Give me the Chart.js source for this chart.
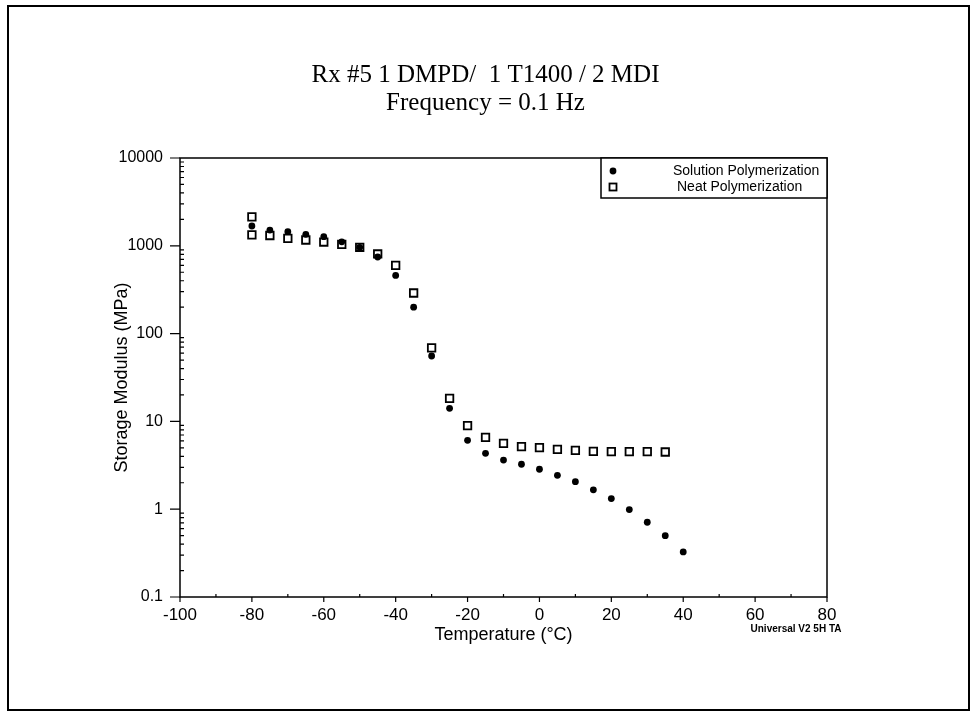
<!DOCTYPE html>
<html>
<head>
<meta charset="utf-8">
<script src="https://cdn.jsdelivr.net/npm/chart.js@4"></script>
<style>
  body { margin: 0; background: #fff; }
  canvas { display: block; }
</style>
</head>
<body>
<canvas id="chart" width="971" height="713"></canvas>
<script>
const titleLines = ['Rx #5 1 DMPD/  1 T1400 / 2 MDI', 'Frequency = 0.1 Hz']
const xTitle = 'Temperature (°C)'
const yTitle = 'Storage Modulus (MPa)'
const footNote = 'Universal V2 5H TA'

const xTicks = [-100, -80, -60, -40, -20, 0, 20, 40, 60, 80]
const yTicks = [0.1, 1, 10, 100, 1000, 10000]

// solution polymerization (filled dots)
const solutionTemps = [-80, -75, -70, -65, -60, -55, -50, -45, -40, -35, -30, -25, -20,
  -15, -10, -5, 0, 5, 10, 15, 20, 25, 30, 35, 40]
const solutionModulus = [1680, 1510, 1450, 1350, 1270, 1110, 960, 745, 460, 200, 55.6, 14.1, 6.08,
  4.33, 3.63, 3.25, 2.85, 2.43, 2.06, 1.66, 1.32, 0.99, 0.71, 0.50, 0.326]

// neat polymerization (open squares)
const neatTemps = [-80, -80, -75, -70, -65, -60, -55, -50, -45, -40, -35, -30, -25, -20,
  -15, -10, -5, 0, 5, 10, 15, 20, 25, 30, 35]
const neatModulus = [2130, 1330, 1310, 1216, 1164, 1104, 1040, 962, 807, 600, 290, 68.6, 18.3, 8.93,
  6.58, 5.62, 5.16, 5.03, 4.81, 4.68, 4.56, 4.52, 4.52, 4.52, 4.48]

const toPoints = (xs, ys) => xs.map((x, i) => ({ x: x, y: ys[i] }))

const sans = 'Liberation Sans, Arial, sans-serif'

// ticks, frame, legend box and footnote
const decorations = {
  id: 'decorations',
  afterDraw(chart) {
    const { ctx, chartArea: a, scales } = chart
    const xs = scales.x, ys = scales.y
    ctx.save()
    ctx.strokeStyle = '#000'
    ctx.fillStyle = '#000'

    // plot box
    ctx.lineWidth = 1.5
    ctx.strokeRect(a.left, a.top, a.right - a.left, a.bottom - a.top)

    // y ticks: majors out, minors in
    ctx.lineWidth = 1.2
    ctx.beginPath()
    for (let e = -1; e <= 4; e++) {
      const y = ys.getPixelForValue(Math.pow(10, e))
      ctx.moveTo(a.left - 10, y); ctx.lineTo(a.left, y)
      if (e < 4) {
        for (let m = 2; m <= 9; m++) {
          const ym = ys.getPixelForValue(m * Math.pow(10, e))
          ctx.moveTo(a.left, ym); ctx.lineTo(a.left + 4, ym)
        }
      }
    }
    // x ticks
    for (let t = -100; t <= 80; t += 10) {
      const x = xs.getPixelForValue(t)
      if (t % 20 === 0) { ctx.moveTo(x, a.bottom); ctx.lineTo(x, a.bottom + 5) }
      else { ctx.moveTo(x, a.bottom); ctx.lineTo(x, a.bottom - 3) }
    }
    ctx.stroke()

    // legend box
    const lx = a.right - 226, ly = a.top, lw = 226, lh = 40
    ctx.fillStyle = '#fff'
    ctx.fillRect(lx, ly, lw, lh)
    ctx.lineWidth = 1.5
    ctx.strokeRect(lx, ly, lw, lh)
    ctx.fillStyle = '#000'
    ctx.beginPath()
    ctx.arc(lx + 12, ly + 13, 3.4, 0, Math.PI * 2)
    ctx.fill()
    ctx.lineWidth = 1.8
    ctx.strokeRect(lx + 8.5, ly + 25.5, 7, 7)
    ctx.font = '14px ' + sans
    ctx.textBaseline = 'middle'
    ctx.textAlign = 'left'
    ctx.fillText(chart.data.datasets[0].label, lx + 72, ly + 13)
    ctx.fillText(chart.data.datasets[1].label, lx + 76, ly + 29)

    // footnote
    ctx.font = 'bold 10px ' + sans
    ctx.textAlign = 'center'
    ctx.fillText(footNote, 796, 629)

    // outer frame
    ctx.lineWidth = 2
    ctx.strokeRect(8, 6, 961, 704)
    ctx.restore()
  }
}

new Chart(document.getElementById('chart'), {
  type: 'scatter',
  data: {
    datasets: [
      {
        label: 'Solution Polymerization',
        data: toPoints(solutionTemps, solutionModulus),
        pointStyle: 'circle',
        pointRadius: 3.4,
        backgroundColor: '#000',
        borderColor: '#000',
        borderWidth: 0,
        order: 1
      },
      {
        label: 'Neat Polymerization',
        data: toPoints(neatTemps, neatModulus),
        pointStyle: 'rect',
        pointRadius: 5.3,
        backgroundColor: 'rgba(0,0,0,0)',
        borderColor: '#000',
        borderWidth: 1.8,
        order: 0
      }
    ]
  },
  options: {
    responsive: false,
    animation: false,
    devicePixelRatio: 1,
    layout: { padding: 0 },
    plugins: {
      legend: { display: false },
      tooltip: { enabled: false },
      title: {
        display: true,
        text: titleLines,
        color: '#000',
        font: { family: 'Liberation Serif, Times New Roman, serif', size: 25, weight: 'normal', lineHeight: 1.12 },
        padding: { top: 61, bottom: 41 }
      }
    },
    scales: {
      x: {
        type: 'linear',
        min: -100,
        max: 80,
        afterBuildTicks: s => { s.ticks = xTicks.map(v => ({ value: v })) },
        afterFit: s => { s.height = 116 },
        grid: { display: false },
        border: { display: false },
        ticks: {
          color: '#000',
          font: { family: sans, size: 17 },
          padding: 0,
          maxRotation: 0,
          autoSkip: false,
          callback: v => String(v)
        },
        title: {
          display: true,
          text: xTitle,
          color: '#000',
          font: { family: sans, size: 18 },
          padding: { top: 0, bottom: 67 }
        }
      },
      y: {
        type: 'logarithmic',
        min: 0.1,
        max: 10000,
        afterBuildTicks: s => { s.ticks = yTicks.map(v => ({ value: v })) },
        afterFit: s => { s.width = 180 },
        grid: { display: false },
        border: { display: false },
        ticks: {
          color: '#000',
          font: { family: sans, size: 16 },
          padding: 9,
          autoSkip: false,
          callback: v => String(v)
        },
        title: {
          display: true,
          text: yTitle,
          color: '#000',
          font: { family: sans, size: 18 },
          padding: { top: 111, bottom: 0 }
        }
      },
      // empty spacer on the right so the title centres on the whole page
      spacer: {
        type: 'linear',
        position: 'right',
        display: true,
        afterFit: s => { s.width = 144 },
        grid: { display: false },
        border: { display: false },
        ticks: { display: false },
        title: { display: false }
      }
    }
  },
  plugins: [decorations]
})
</script>
</body>
</html>
